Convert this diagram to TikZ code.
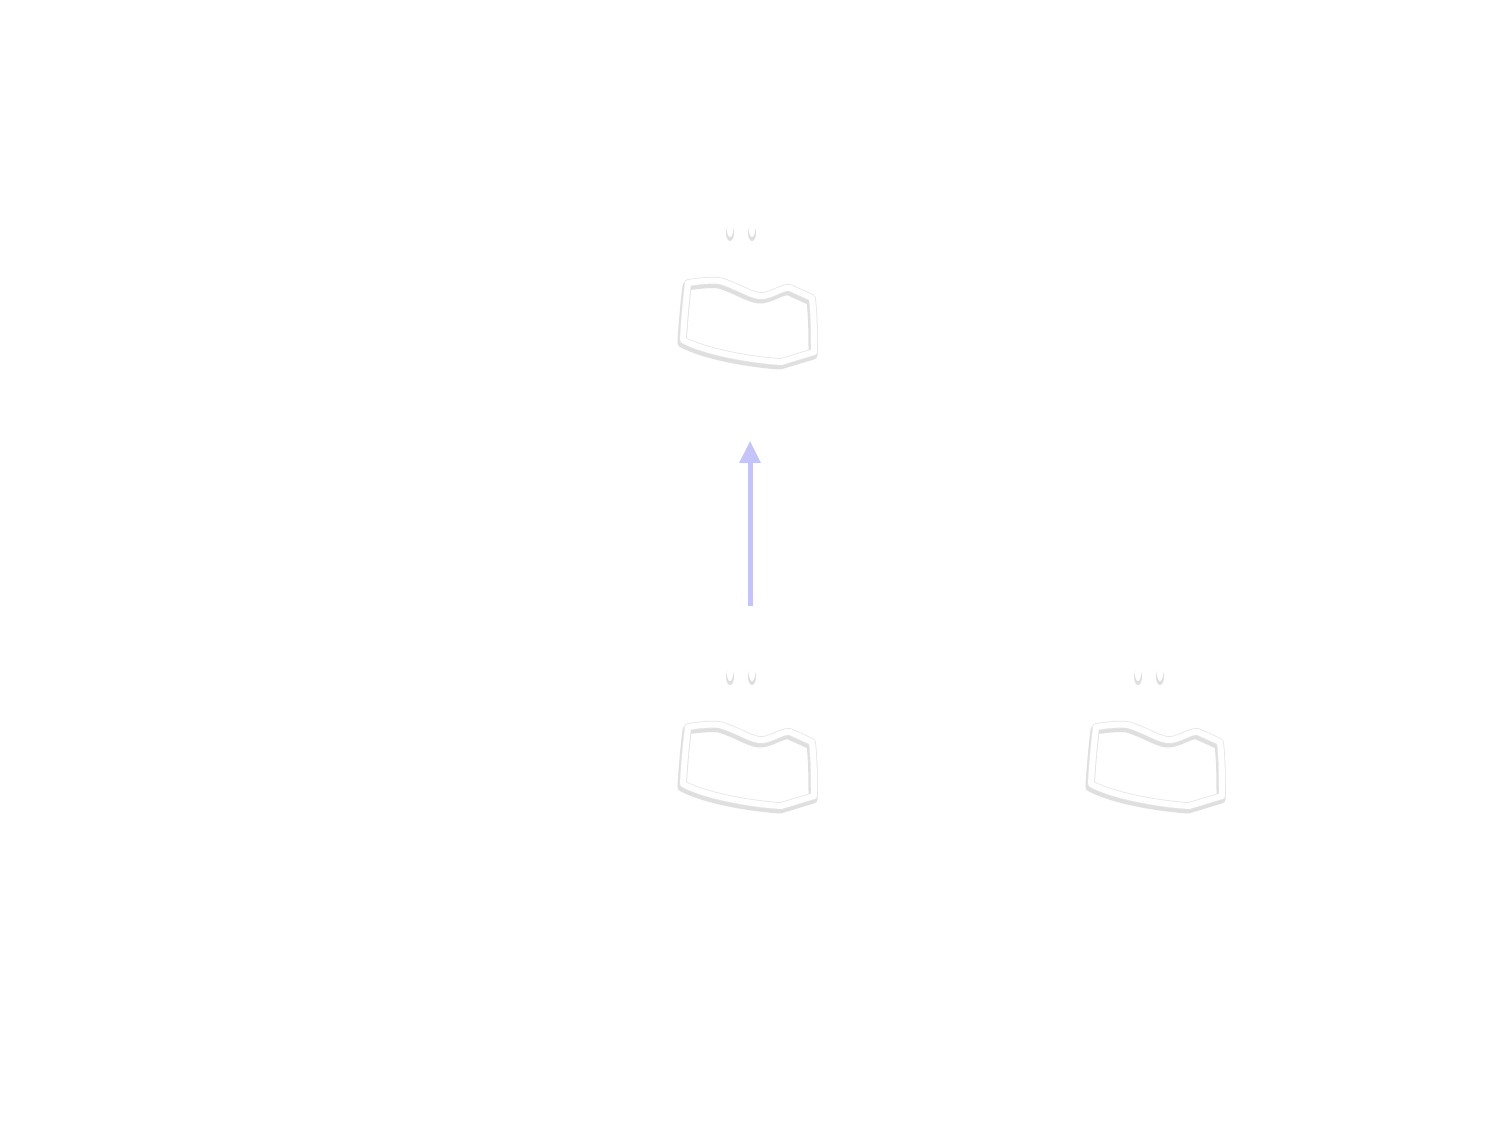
\documentclass[tikz,border=0pt]{standalone}
\usetikzlibrary{arrows.meta}
\definecolor{arrowblue}{RGB}{196,196,248}
\definecolor{shadowgray}{RGB}{150,150,150}
\tikzset{
  holder/.style={draw=none,inner sep=0pt,minimum width=1.34cm,minimum height=1.45cm},
  shapeshadow/.style={draw=shadowgray,line width=0.09cm,opacity=0.3,line join=round},
  shapeedge/.style={draw=black!10,line width=0.075cm,line join=round},
  shapewhite/.style={draw=white,line width=0.06cm,line join=round},
  ovalshadow/.style={fill=shadowgray,opacity=0.3,draw=none},
  ovalwhite/.style={fill=white,draw=none},
  arrshadow/.style={draw=shadowgray,opacity=0.2,line width=0.06cm},
  arr/.style={draw=arrowblue,line width=0.05cm,-{Triangle[width=0.2cm,length=0.22cm]}}
}
\newcommand{\blobpath}{(688,283) .. controls (700,281) and (712,280) .. (720,281) .. controls (740,287) and (752,297) .. (763,296) .. controls (775,294) and (782,287) .. (790,288) -- (812,298) .. controls (814,315) and (814,335) .. (814,352) -- (781,362) .. controls (750,360) and (705,352) .. (683,340) .. controls (684,320) and (686,300) .. (688,283) -- cycle}
\newcommand{\drawblob}{%
  \draw[shapeshadow,shift={(-1,3)}] \blobpath;
  \draw[shapeedge] \blobpath;
  \draw[shapewhite] \blobpath;
  \fill[ovalshadow] (730,233) ellipse (4 and 8);
  \fill[ovalshadow] (752,233) ellipse (4 and 8);
  \fill[ovalwhite] (730,230) ellipse (3 and 7);
  \fill[ovalwhite] (752,230) ellipse (3 and 7);
}
\begin{document}
\begin{tikzpicture}[x=0.01cm,y=-0.01cm]
\useasboundingbox[fill=white] (0,0) rectangle (1500,1125);
\node[holder] (top) at (750,292.5) {};
\node[holder] (mid) at (750,735.5) {};
\node[holder] (right) at (1157,735.5) {};
\begin{scope}\drawblob\end{scope}
\begin{scope}[shift={(0,444)}]\drawblob\end{scope}
\begin{scope}[shift={(408,444)}]\drawblob\end{scope}
\draw[arr,shorten <=0.56cm,shorten >=0.75cm] (mid.north) -- (top.south);
\end{tikzpicture}
\end{document}
